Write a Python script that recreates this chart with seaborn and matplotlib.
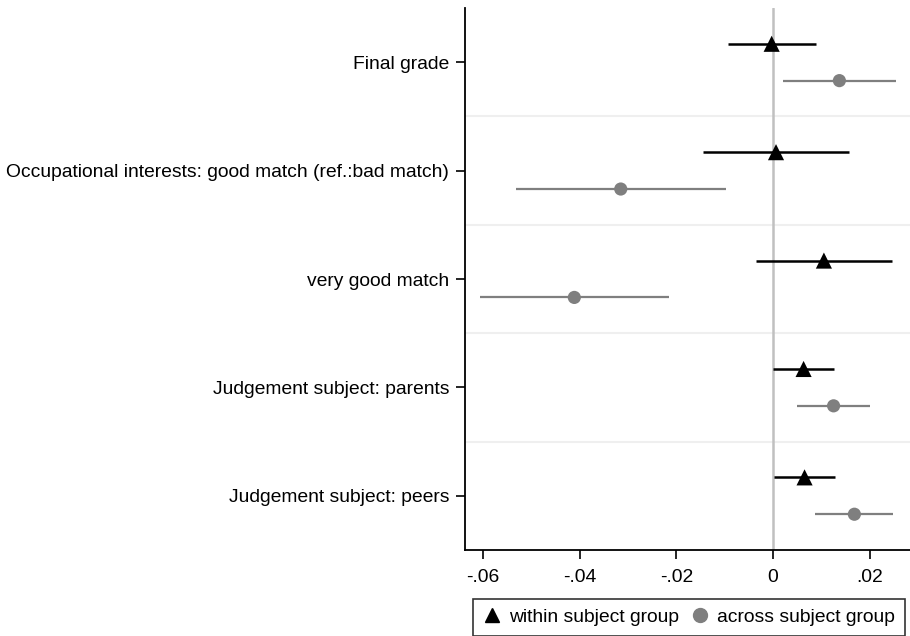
import numpy as np
import pandas as pd
import matplotlib
matplotlib.use("Agg")
import matplotlib.pyplot as plt
from matplotlib.lines import Line2D
import seaborn as sns

# coefficient estimates with 95% CIs
LABELS = ['Final grade',
          'Occupational interests: good match (ref.:bad match)',
          'very good match',
          'Judgement subject: parents',
          'Judgement subject: peers']

within_est = [-0.0003, 0.0006, 0.0105, 0.0063, 0.0065]
within_lo  = [-0.0094, -0.0144, -0.0035, -0.0001, 0.0001]
within_hi  = [0.0089, 0.0156, 0.0246, 0.0125, 0.0127]

across_est = [0.0137, -0.0315, -0.0411, 0.0125, 0.0168]
across_lo  = [0.0021, -0.0532, -0.0605, 0.0050, 0.0087]
across_hi  = [0.0254, -0.0098, -0.0215, 0.0201, 0.0248]

GROUPS = ['within subject group', 'across subject group']
XTICKS = [-0.06, -0.04, -0.02, 0, 0.02]
XTICKLABELS = ['-.06', '-.04', '-.02', '0', '.02']

sns.set_style('white')
plt.rcParams['font.family'] = ['Liberation Sans', 'DejaVu Sans']
FS = 13.9

OFFSET = 0.17
idx = np.arange(len(LABELS))
df = pd.concat([
    pd.DataFrame({'y': idx - OFFSET, 'est': within_est, 'lo': within_lo,
                  'hi': within_hi, 'group': GROUPS[0]}),
    pd.DataFrame({'y': idx + OFFSET, 'est': across_est, 'lo': across_lo,
                  'hi': across_hi, 'group': GROUPS[1]}),
], ignore_index=True)

colors = {GROUPS[0]: 'black', GROUPS[1]: '#7f7f7f'}
markers = {GROUPS[0]: '^', GROUPS[1]: 'o'}
sizes = {GROUPS[0]: 135, GROUPS[1]: 90}

fig = plt.figure(figsize=(9.1, 6.36), dpi=100)
ax = fig.add_axes([465/910, 1 - 550/636, 445/910, 542/636])

# separators between categories
for b in idx[:-1] + 0.5:
    ax.axhline(b, color='#efefef', lw=1.5, zorder=0)
ax.axvline(0, color='#c0c0c0', lw=1.8, zorder=1)

for g in GROUPS:
    sub = df[df.group == g]
    ax.hlines(sub['y'], sub['lo'], sub['hi'], color=colors[g],
              lw=1.8 if g == GROUPS[0] else 1.6, zorder=2)

sns.scatterplot(data=df, x='est', y='y', hue='group', style='group', size='group',
                palette=colors, markers=markers, sizes=sizes, edgecolor='none',
                legend=False, ax=ax, zorder=3)

ax.set_xlim(-0.0637, 0.0283)
ax.set_ylim(len(LABELS) - 0.5, -0.5)
ax.set_yticks(idx)
ax.set_yticklabels(LABELS, fontsize=FS, color='black')
ax.set_xticks(XTICKS)
ax.set_xticklabels(XTICKLABELS, fontsize=FS, color='black')
ax.set_xlabel('')
ax.set_ylabel('')
ax.tick_params(axis='both', bottom=True, left=True, direction='out',
               length=6.5, width=1.2, color='black', pad=5)
ax.tick_params(axis='x', pad=7)
for side in ['top', 'right']:
    ax.spines[side].set_visible(False)
for side in ['left', 'bottom']:
    ax.spines[side].set_color('black')
    ax.spines[side].set_linewidth(1.3)

handles = [Line2D([], [], ls='none', marker=markers[g], color=colors[g],
                  markersize=10, label=g) for g in GROUPS]
leg = fig.legend(handles=handles, loc='upper left', bbox_to_anchor=(473/910, 1 - 599/636),
                 ncol=2, frameon=True, fancybox=False, fontsize=FS,
                 handletextpad=0.37, columnspacing=0.6, borderpad=0.5,
                 handlelength=1.0, borderaxespad=0)
leg.get_frame().set_edgecolor('black')
leg.get_frame().set_linewidth(1.2)
for t in leg.get_texts():
    t.set_color('black')

fig.savefig('out.png', dpi=100)
